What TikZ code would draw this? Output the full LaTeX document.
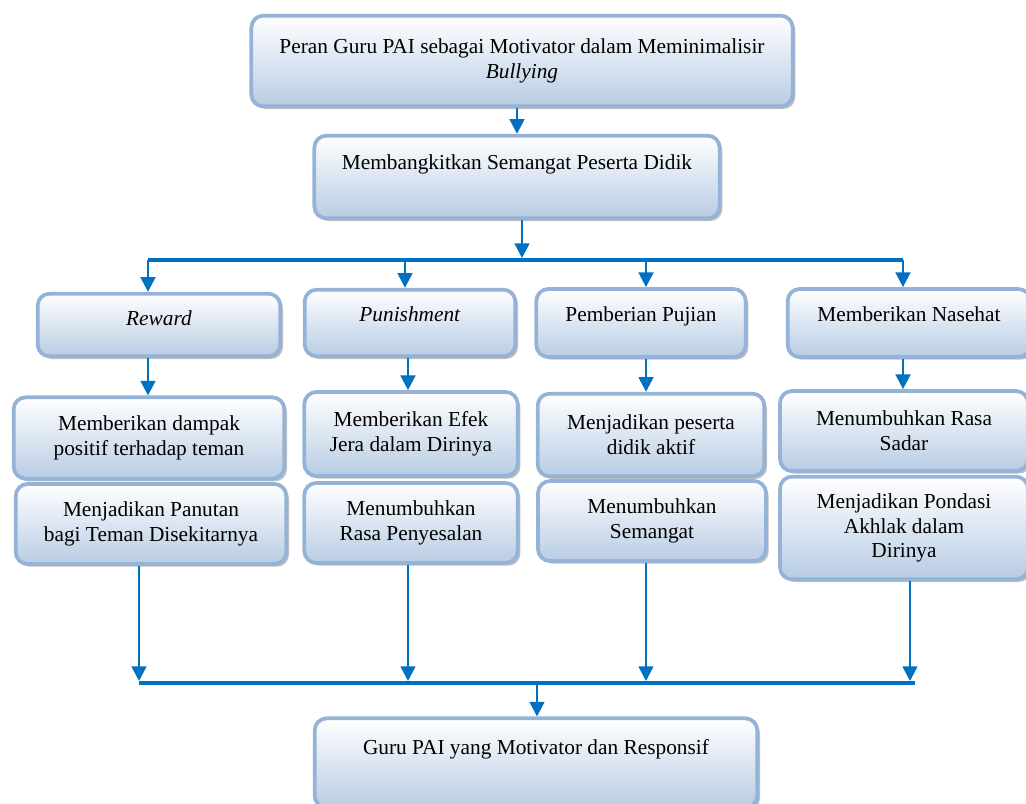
\documentclass[tikz,border=0pt]{standalone}
\usepackage{fontspec}
\setmainfont{Liberation Serif}
\usetikzlibrary{arrows.meta,shadows}
\definecolor{boxline}{RGB}{149,179,215}
\definecolor{boxfill}{RGB}{184,204,228}
\definecolor{panahblue}{RGB}{0,112,192}
\tikzset{
  blok/.style={draw=boxline, line width=2.8pt, rounded corners=9pt,
    top color=white, bottom color=boxfill,
    drop shadow={shadow xshift=2pt, shadow yshift=-2pt, fill=black!50},
    align=center, inner sep=2pt,
    font=\fontsize{16}{18.5}\selectfont},
  panah/.style={draw=panahblue, line width=1.9pt, -{Triangle[width=11pt,length=11pt]}},
  jalur/.style={draw=panahblue, line width=3.3pt}
}
\begin{document}
\begin{tikzpicture}[x=0.75pt,y=-0.75pt]
    \useasboundingbox (0,0) rectangle (1026,804);

    % Top boxes
    \node[blok, minimum width=406pt, minimum height=68pt] (peran) at (522,61)
      {Peran Guru PAI sebagai Motivator dalam Meminimalisir\\ \textit{Bullying}};
    \node[blok, minimum width=304pt, minimum height=62pt, text depth=23pt] (semangat) at (517,177)
      {Membangkitkan Semangat Peserta Didik};

    % First row (the four ways)
    \node[blok, minimum width=182pt, minimum height=47pt, text depth=10pt] (reward) at (159,325) {\textit{Reward}};
    \node[blok, minimum width=158pt, minimum height=50pt, text depth=13pt] (punish) at (410,323) {\textit{Punishment}};
    \node[blok, minimum width=157pt, minimum height=51pt, text depth=13pt] (pujian) at (641,323) {Pemberian Pujian};
    \node[blok, minimum width=182pt, minimum height=51pt, text depth=13pt] (nasehat) at (909,323) {Memberikan Nasehat};

    % Second row
    \node[blok, minimum width=203pt, minimum height=61pt] (dampak) at (149,438) {Memberikan dampak\\ positif terhadap teman};
    \node[blok, minimum width=160pt, minimum height=63pt] (jera) at (411,434) {Memberikan Efek\\ Jera dalam Dirinya};
    \node[blok, minimum width=170pt, minimum height=62pt] (aktif) at (651,435) {Menjadikan peserta\\ didik aktif};
    \node[blok, minimum width=186pt, minimum height=60pt] (sadar) at (904,431) {Menumbuhkan Rasa\\ Sadar};

    % Third row
    \node[blok, minimum width=203pt, minimum height=60pt] (panutan) at (151,524) {Menjadikan Panutan\\ bagi Teman Disekitarnya};
    \node[blok, minimum width=160pt, minimum height=60pt] (sesal) at (411,523) {Menumbuhkan\\ Rasa Penyesalan};
    \node[blok, minimum width=171pt, minimum height=60pt] (tumbuh) at (652,521) {Menumbuhkan\\ Semangat};
    \node[blok, minimum width=186pt, minimum height=77pt] (pondasi) at (904,528) {Menjadikan Pondasi\\ Akhlak dalam\\ Dirinya};

    % Result box
    \node[blok, minimum width=332pt, minimum height=67pt, text depth=24pt] (hasil) at (536,763)
      {Guru PAI yang Motivator dan Responsif};

    % Branching points
    \coordinate (pusat) at (522,260);
    \coordinate (ca1) at (148,260);
    \coordinate (ca2) at (405,260);
    \coordinate (ca3) at (646,260);
    \coordinate (ca4) at (903,260);
    \coordinate (cb1) at (139,683);
    \coordinate (cb2) at (408,683);
    \coordinate (cb3) at (646,683);
    \coordinate (cb4) at (910,683);
    \coordinate (cbujung) at (915,683);
    \coordinate (temu) at (537,683);

    % Upper part
    \draw[panah] (peran.south -| semangat.north) -- (semangat.north);
    \draw[panah, shorten >=1.5pt] (semangat.south -| pusat) -- (pusat);
    \draw[jalur] (ca1) -- (ca4);
    \draw[panah] (ca1) -- (ca1 |- reward.north);
    \draw[panah] (ca2) -- (ca2 |- punish.north);
    \draw[panah] (ca3) -- (ca3 |- pujian.north);
    \draw[panah] (ca4) -- (ca4 |- nasehat.north);

    % First row to second row
    \draw[panah] (reward.south -| ca1) -- (ca1 |- dampak.north);
    \draw[panah] (punish.south -| cb2) -- (cb2 |- jera.north);
    \draw[panah] (pujian.south -| ca3) -- (ca3 |- aktif.north);
    \draw[panah] (nasehat.south -| ca4) -- (ca4 |- sadar.north);

    % Lower part
    \draw[panah, shorten >=1.5pt] (panutan.south -| cb1) -- (cb1);
    \draw[panah, shorten >=1.5pt] (sesal.south -| cb2) -- (cb2);
    \draw[panah, shorten >=1.5pt] (tumbuh.south -| cb3) -- (cb3);
    \draw[panah, shorten >=1.5pt] (pondasi.south -| cb4) -- (cb4);
    \draw[jalur] (cb1) -- (cbujung);
    \draw[panah] (temu) -- (temu |- hasil.north);
\end{tikzpicture}
\end{document}
